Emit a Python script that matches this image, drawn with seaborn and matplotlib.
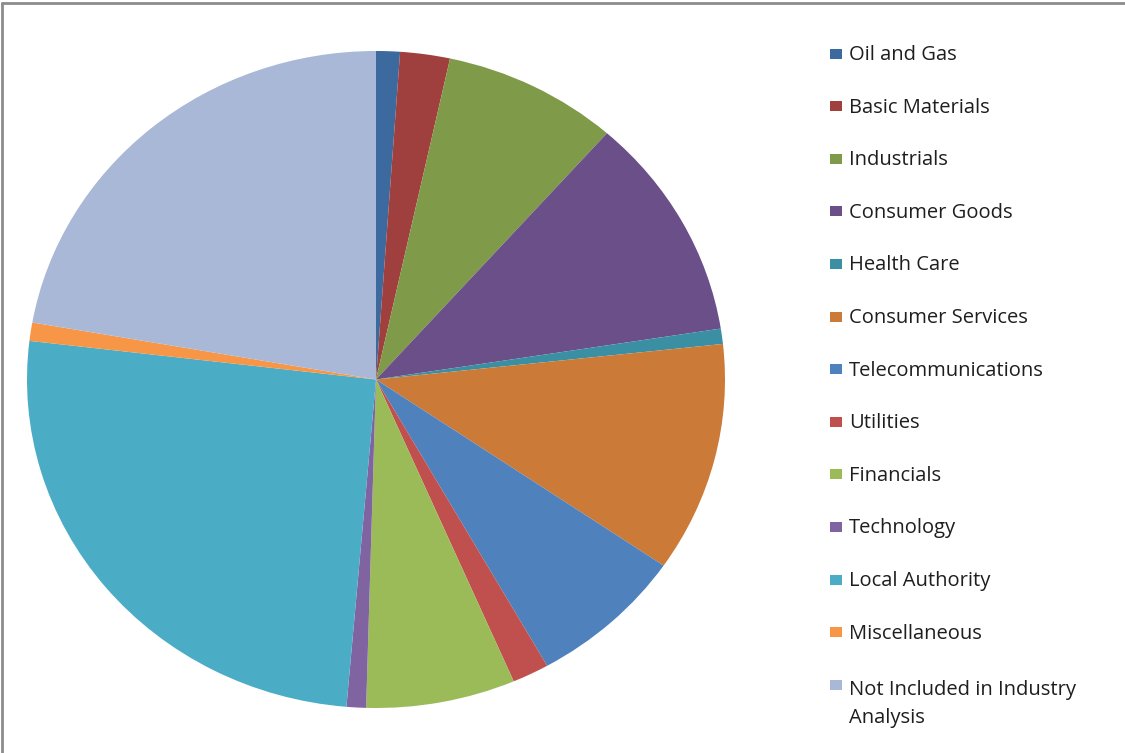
import matplotlib
matplotlib.use("Agg")
import matplotlib.pyplot as plt
from matplotlib.patches import Rectangle
from matplotlib.lines import Line2D
import seaborn as sns

# Share of holdings by industry sector (percent)
sectors = [
    "Oil and Gas", "Basic Materials", "Industrials", "Consumer Goods",
    "Health Care", "Consumer Services", "Telecommunications", "Utilities",
    "Financials", "Technology", "Local Authority", "Miscellaneous",
    "Not Included in Industry\nAnalysis",
]
shares = [1.1, 2.3, 8.1, 11.0, 0.75, 11.3, 7.25, 1.7, 6.9, 0.9, 25.5, 0.9, 22.2]
sector_colors = [
    "#3D6A9E", "#A0403E", "#7F9A48", "#6A4F88", "#3A8FA3", "#CC7A37",
    "#4F81BD", "#C0504D", "#9BBB59", "#8064A2", "#4BACC6", "#F79646",
    "#A9B8D6",
]

sns.set_theme(style="white")
plt.rcParams["font.family"] = ["Open Sans", "DejaVu Sans"]
palette = sns.color_palette(sector_colors)

W, H = 1125, 753
fig = plt.figure(figsize=(W / 100, H / 100), dpi=100)
fig.patch.set_facecolor("white")

# Pie axes (slightly wider than tall, as in the original sheet)
cx, cy, rx, ry = 376, 379.5, 349, 328.5
ax = fig.add_axes([(cx - rx) / W, 1 - (cy + ry) / H, 2 * rx / W, 2 * ry / H])
ax.pie(shares, colors=palette, startangle=90, counterclock=False,
       radius=1.0, wedgeprops=dict(linewidth=0))
ax.set_aspect("auto")
ax.set_xlim(-1, 1)
ax.set_ylim(-1, 1)
ax.axis("off")

# Chart-area frame (top and left edges visible)
fig.add_artist(Line2D([1.5 / W, 1.5 / W], [0, 1 - 2.5 / H], transform=fig.transFigure,
                      color="#8C8C8C", lw=2.0))
fig.add_artist(Line2D([1.5 / W, 1], [1 - 2.5 / H, 1 - 2.5 / H], transform=fig.transFigure,
                      color="#8C8C8C", lw=2.0))

# Legend: square swatch + label; wrapped labels hang below the swatch
y0, pitch, line_px = 53.5, 52.6, 27
for i, (name, col) in enumerate(zip(sectors, palette)):
    y = y0 + i * pitch
    fig.add_artist(Rectangle((830 / W, 1 - (y + 5) / H), 12 / W, 10 / H,
                             transform=fig.transFigure, facecolor=col, edgecolor="none"))
    extra = name.count("\n")
    base = y + 6.5 + ((4.5 + line_px * extra) if extra else 0)
    fig.text(849 / W, 1 - base / H, name, fontsize=14.5, color="#1E1E1E",
             va="baseline", ha="left", linespacing=1.53)

fig.savefig("out.png", dpi=100, facecolor="white")
